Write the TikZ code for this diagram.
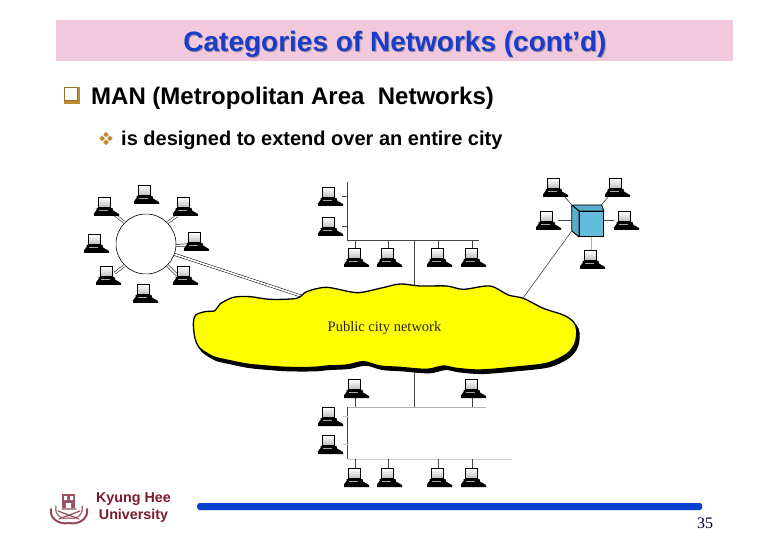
\documentclass[tikz,border=0pt]{standalone}
\usepackage{fontspec}
\setmainfont{Liberation Sans}
\newfontfamily\serifface{Liberation Serif}
\usetikzlibrary{calc,shapes.geometric}
\definecolor{bandpink}{HTML}{F2C9DC}
\definecolor{titleblue}{HTML}{1B3CC8}
\definecolor{bargold}{HTML}{BE8A32}
\definecolor{barblue}{HTML}{0B3FD0}
\definecolor{cubeblue}{HTML}{62BCDC}
\definecolor{maroon}{HTML}{7A1A2A}
\definecolor{linegray}{HTML}{444444}
\definecolor{cloudyellow}{RGB}{255,255,0}
\tikzset{
 pcbox/.style={minimum width=25pt,minimum height=19pt,inner sep=0pt,outer sep=0pt,anchor=north west},
 wire/.style={line width=.7pt,draw=linegray},
 wirebus/.style={line width=.9pt,draw=linegray},
 wirefaint/.style={line width=.7pt,draw=gray!60},
 twin/.style={line width=.5pt,draw=black,double=white,double distance=1.7pt},
 cloudline/.style={line width=1.3pt,draw=black},
 sealline/.style={draw=maroon!80,line cap=round},
}
\newcommand{\pcunit}[3]{%
  \node[pcbox] (#1) at (#2,#3) {};
  \begin{scope}[shift={(#1.north west)}]
    \fill[black] (2.5,11)--(18.5,11)--(19,13.5)--(25,17)--(25,19)--(0,19)--(0,16.4)--(2.5,13)--cycle;
    \fill[gray!70] (5,13.4) rectangle (14,14);
    \shade[top color=white,bottom color=gray!55] (4.5,.7) rectangle (16.5,11);
    \draw[black,line width=1.2pt] (4.5,.7) rectangle (16.5,11);
  \end{scope}}
\begin{document}
\begin{tikzpicture}[x=1pt,y=-1pt]
\useasboundingbox (0,0) rectangle (780,540);
% header
\fill[bandpink] (56,20) rectangle (733,61);
\node[text=gray!70!bandpink,font=\fontsize{28}{32}\selectfont\bfseries] (titleshade) at (396,45) {Categories of Networks (cont’d)};
\node[text=titleblue,font=\fontsize{28}{32}\selectfont\bfseries] (title) at (395,44) {Categories of Networks (cont’d)};
% bullets
\fill[bargold] (64,87.5) rectangle (80,104);
\draw[bargold!80!black,line width=1pt,fill=white] (64.5,88) rectangle (77.5,101);
\node[anchor=west,inner sep=0pt,font=\fontsize{24}{28}\selectfont\bfseries] (man) at (91,98) {MAN (Metropolitan Area\ \ Networks)};
\foreach \dx/\dy in {0/-3.8,0/3.8,-3.8/0,3.8/0}
  \fill[bargold] ($(106,138.5)+(\dx,\dy)$) +(0,-2.8) -- +(2.8,0) -- +(0,2.8) -- +(-2.8,0) -- cycle;
\node[anchor=west,inner sep=0pt,font=\fontsize{20}{24}\selectfont\bfseries] (sub) at (121,140) {is designed to extend over an entire city};
% long connectors under the cloud
\coordinate (cloudA) at (301,296);
\coordinate (cloudB) at (521.7,300);
\coordinate (cloudC) at (414.5,300);
\coordinate (cloudD) at (414.5,360);
% ring
\node[circle,draw=black,line width=.6pt,minimum size=60pt,inner sep=0pt] (ring) at (146,244) {};
\node[pcbox] (rtx) at (134,185) {};
\draw[twin] (ring.90) -- (ring.90 |- rtx.south);
\draw[twin] (ring.135) -- (115,215) coordinate (rulend);
\draw[twin] (ring.45) -- (177,216) coordinate (rurend);
\draw[twin] (ring.180) -- (103,244) coordinate (rlend);
\draw[twin] (ring.-3) -- (186,245) coordinate (rrend);
\draw[twin] (ring.225) -- (115,273) coordinate (rllend);
\draw[twin] (ring.-45) -- (177,275) coordinate (rlrend);
\draw[twin] (ring.-90) -- (ring.-90 |- 0,286);
\draw[twin] (ring.-20) -- (cloudA);
\pcunit{rt}{134}{185}
\pcunit{rul}{94}{197}
\pcunit{rur}{173}{197}
\pcunit{rl}{84}{234}
\pcunit{rr}{184}{232}
\pcunit{rll}{96}{266}
\pcunit{rlr}{173}{266}
\pcunit{rb}{133}{284}
% upper bus
\coordinate (buaTop) at (347.7,182.5);
\coordinate (buaCorner) at (347.7,240);
\coordinate (buaEnd) at (479,240);
\coordinate (buaDrop) at (414.5,240);
\draw[wirebus] (buaTop) -- (buaCorner) -- (buaEnd);
\pcunit{ua1}{318}{187}
\pcunit{ua2}{318}{217}
\pcunit{ub1}{344}{248}
\pcunit{ub2}{377}{248}
\pcunit{ub3}{427}{248}
\pcunit{ub4}{461}{248}
\draw[wire] (ua1.east) ++(-1,0) -- (ua1.east -| buaTop);
\draw[wire] (ua2.east) ++(-1,0) -- (ua2.east -| buaTop);
\foreach \n in {ub1,ub2,ub3,ub4}
  \draw[wire] ([xshift=-1.5pt]\n.north) -- ([xshift=-1.5pt]\n.north |- buaEnd);
\draw[wirebus] (buaDrop) -- (cloudC);
% star
\pcunit{s1}{543}{178}
\pcunit{s2}{605}{178}
\pcunit{s3}{536}{211}
\pcunit{s4}{614}{211}
\pcunit{s5}{580}{250}
\node[rectangle,draw=black,line width=.9pt,fill=cubeblue,minimum width=24pt,minimum height=25pt,inner sep=0pt,anchor=north west] (cube) at (579,211) {};
\coordinate (cubeBL) at (571.7,205);
\coordinate (cubeBR) at (601.5,205);
\coordinate (cubeLow) at (571.7,231);
\filldraw[fill=cubeblue!92!black,draw=black,line width=.9pt,line join=round] (cube.north west) -- (cubeBL) -- (cubeBR) -- (cube.north east) -- cycle;
\filldraw[fill=cubeblue!92!black,draw=black,line width=.9pt,line join=round] (cube.north west) -- (cubeBL) -- (cubeLow) -- (cube.south west) -- cycle;
\draw[wire] (s1.south east) ++(-3,0) -- (cubeBL);
\draw[wire] (s2.south west) ++(3,0) -- (cubeBR);
\draw[wire] (s3.east) ++(-3,0) -- ([xshift=-7pt]s3.east -| cube.west);
\draw[wire] (s4.west) -- (s4.west -| cube.east);
\draw[wirefaint] (cube.south |- s5.north) -- (cube.south);
\draw[wire,line width=.6pt] (cubeLow) -- (cloudB);
% lower bus
\coordinate (blaCorner) at (347.7,407.3);
\coordinate (blaEnd) at (486,407.3);
\coordinate (blbCorner) at (347.7,459);
\coordinate (blbEnd) at (512,459);
\coordinate (blaDrop) at (414.5,407.3);
\draw[wirefaint,line width=.9pt] (blaCorner) -- (blaEnd);
\draw[wirefaint,line width=.7pt,draw=gray!40] (blbCorner) -- (blbEnd);
\draw[wirebus] (blaCorner) -- (blbCorner);
\draw[wirebus] (cloudD) -- (blaDrop);
\pcunit{lt1}{344}{379}
\pcunit{lt2}{461}{379}
\pcunit{ll1}{318}{407}
\pcunit{ll2}{318}{435}
\pcunit{lb1}{344}{468}
\pcunit{lb2}{377}{468}
\pcunit{lb3}{427}{468}
\pcunit{lb4}{461}{468}
\foreach \n in {lt1,lt2}
  \draw[wire] ([xshift=-1.5pt]\n.south) -- ([xshift=-1.5pt]\n.south |- blaEnd);
\foreach \n in {lb1,lb2,lb3,lb4}
  \draw[wire] ([xshift=-1.5pt]\n.north) -- ([xshift=-1.5pt]\n.north |- blbEnd);
\draw[wirefaint,draw=gray!40] (ll1.east) -- (ll1.east -| blaCorner);
\draw[wirefaint,draw=gray!40] (ll2.east) -- (ll2.east -| blaCorner);
% cloud
\foreach \dx/\dy/\col in {2.4/3.4/black,0/0/cloudyellow}{
\begin{scope}[shift={(180+\dx,280+\dy)},x=.33333pt,y=-.33333pt]
\draw[cloudline,fill=\col] plot[smooth cycle,tension=.5] coordinates {
(40,130)(47,105)(75,95)(105,92)(120,72)(160,52)(210,50)(270,58)(350,55)(380,35)(440,22)(530,38)(600,25)(660,12)(720,18)(800,18)(850,28)(930,18)(985,45)(1030,55)(1090,85)(1150,105)(1180,125)(1190,150)(1185,190)(1160,222)(1100,250)(1000,262)(900,270)(830,265)(790,258)(740,268)(660,262)(600,258)(550,245)(500,255)(440,258)(400,262)(320,262)(260,258)(200,252)(140,240)(100,230)(60,205)(45,175)};
\end{scope}}
\node[font=\serifface\fontsize{14.5}{16}\selectfont,text=black!85] (cloudlabel) at (384.5,328) {Public city network};
% logo
\fill[maroon!75] (62,493.5) rectangle (75,508);
\fill[white] (64,496) rectangle (67,500) (70,496) rectangle (73,500) (66,503) rectangle (71,508);
\draw[sealline,line width=2pt] (51,509) .. controls (49,519) and (60,525) .. (69,523);
\draw[sealline,line width=2pt] (87,509) .. controls (89,519) and (78,525) .. (69,523);
\draw[sealline,line width=1.4pt,maroon!60] (56,506) .. controls (54,515) and (62,520) .. (69,518);
\draw[sealline,line width=1.4pt,maroon!60] (82,506) .. controls (84,515) and (76,520) .. (69,518);
\draw[sealline,line width=1.2pt] (58,511) -- (79,519) (80,511) -- (59,519) (62,509) -- (76,509);
\node[align=center,inner sep=0pt,text=maroon,font=\fontsize{14.3}{17}\selectfont\bfseries] (kyung) at (133.5,508) {Kyung Hee\\University};
% rule and number
\node[rectangle,rounded corners=2.5pt,fill=barblue,minimum width=505pt,minimum height=7pt,inner sep=0pt,anchor=west] (rulebar) at (197,506.5) {};
\node[font=\serifface\fontsize{16}{18}\selectfont,text=black!80!blue] (pageno) at (705,523) {35};
\end{tikzpicture}
\end{document}
